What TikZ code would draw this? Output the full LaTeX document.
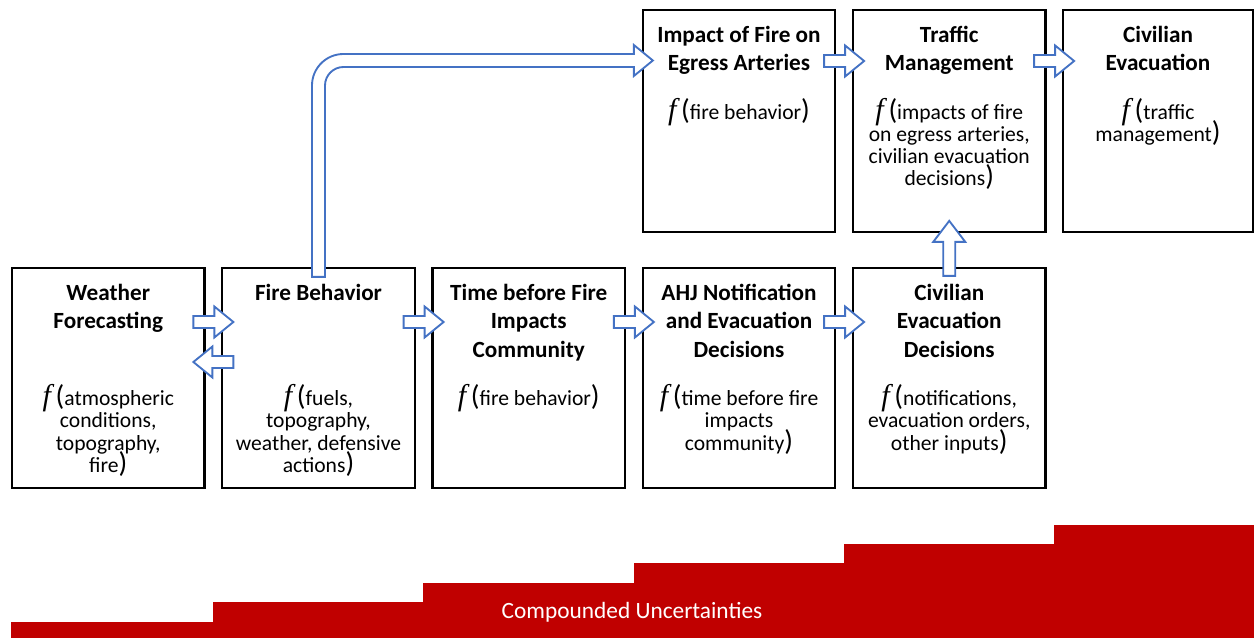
\documentclass[tikz,border=0pt]{standalone}
\usepackage{fontspec}
\setmainfont{Carlito}
\newfontfamily\fserif{Liberation Serif}
\usetikzlibrary{calc}
\definecolor{arrowblue}{HTML}{4472C4}
\definecolor{stairred}{HTML}{C00000}
% function sign "f (" and closing parenthesis
\newcommand\fn{{\fontsize{22.5}{17}\fserif\itshape f}\hspace{0.22em}{\fontsize{21.5}{17}\selectfont(}}
\newcommand\cp{{\fontsize{21.5}{17}\selectfont)}}
% struts fixing the height of the first line of titles and bodies
\newcommand\tst{\rule{0pt}{14pt}}
\newcommand\bst{\rule{0pt}{17pt}}
\begin{document}
\setlength{\lineskiplimit}{-100pt}
\begin{tikzpicture}[x=0.75pt,y=-0.75pt,
  box/.style={draw=black, line width=1.7pt, minimum width=144.375pt, minimum height=165pt, inner sep=0pt},
  ttl/.style={font=\fontsize{17.4}{21.5}\selectfont\bfseries, align=center, inner sep=0pt, anchor=north},
  bdy/.style={font=\fontsize{16.2}{16.6}\selectfont, align=center, inner sep=0pt, anchor=north},
  barrow/.style={draw=arrowblue, line width=1.4pt, fill=white, line join=miter},
  harr/.pic={\draw[barrow] (-20,-6) -- (1,-6) -- (1,-15.5) -- (20,0) -- (1,15.5) -- (1,6) -- (-20,6) -- cycle;},
  varr/.pic={\draw[barrow] (-27.5,-6) -- (6.5,-6) -- (6.5,-16) -- (27.5,0) -- (6.5,16) -- (6.5,6) -- (-27.5,6) -- cycle;}
]
\useasboundingbox (0,0) rectangle (1254,638);

% rising band of uncertainty
\fill[stairred] (11,638) -- (11,622) -- (213,622) -- (213,602) -- (423,602) -- (423,583)
  -- (634,583) -- (634,563) -- (844,563) -- (844,544) -- (1054,544) -- (1054,525)
  -- (1254,525) -- (1254,638) -- cycle;
\node[font=\fontsize{17.5}{20}\selectfont, text=white, inner sep=0pt] (cu) at (632,612) {Compounded Uncertainties};

% lower row of stages
\node[box] (wf)  at (108.25,378) {};
\node[box] (fb)  at (318.5,378) {};
\node[box] (tb)  at (528.75,378) {};
\node[box] (ahj) at (739,378) {};
\node[box] (ced) at (949.25,378) {};
% upper row of stages
\node[box, minimum height=166.5pt] (ia) at (739,121) {};
\node[box, minimum height=166.5pt] (tm) at (949.25,121) {};
\node[box, minimum height=166.5pt, minimum width=142.875pt] (ce) at (1158,121) {};

% titles and functions
\node[ttl] (wf-t) at ($(wf.north)+(0,14.5)$) {\tst Weather\\Forecasting};
\node[bdy] (wf-b) at ($(wf.north)+(0,116)$) {\bst\fn atmospheric\\conditions,\\topography,\\fire\cp};

\node[ttl] (fb-t) at ($(fb.north)+(0,14.5)$) {\tst Fire Behavior};
\node[bdy] (fb-b) at ($(fb.north)+(0,116)$) {\bst\fn fuels,\\topography,\\weather, defensive\\actions\cp};

\node[ttl] (tb-t) at ($(tb.north)+(0,14.5)$) {\tst Time before Fire\\Impacts\\Community};
\node[bdy] (tb-b) at ($(tb.north)+(0,116)$) {\bst\fn fire behavior\cp};

\node[ttl] (ahj-t) at ($(ahj.north)+(0,14.5)$) {\tst AHJ Notification\\and Evacuation\\Decisions};
\node[bdy] (ahj-b) at ($(ahj.north)+(0,116)$) {\bst\fn time before fire\\impacts\\community\cp};

\node[ttl] (ced-t) at ($(ced.north)+(0,14.5)$) {\tst Civilian\\Evacuation\\Decisions};
\node[bdy] (ced-b) at ($(ced.north)+(0,116)$) {\bst\fn notifications,\\evacuation orders,\\other inputs\cp};

\node[ttl] (ia-t) at ($(ia.north)+(0,14.5)$) {\tst Impact of Fire on\\Egress Arteries};
\node[bdy] (ia-b) at ($(ia.north)+(0,87.5)$) {\bst\fn fire behavior\cp};

\node[ttl] (tm-t) at ($(tm.north)+(0,14.5)$) {\tst Traffic\\Management};
\node[bdy] (tm-b) at ($(tm.north)+(0,87.5)$) {\bst\fn impacts of fire\\on egress arteries,\\civilian evacuation\\decisions\cp};

\node[ttl] (ce-t) at ($(ce.north)+(0,14.5)$) {\tst Civilian\\Evacuation};
\node[bdy] (ce-b) at ($(ce.north)+(0,87.5)$) {\bst\fn traffic\\management\cp};

% block arrows between stages
\pic at ($(wf.east)!.5!(fb.west)+(0,-56)$) {harr};
\pic[rotate=180] at ($(wf.east)!.5!(fb.west)+(0,-16)$) {harr};
\pic at ($(fb.east)!.5!(tb.west)+(0,-56)$) {harr};
\pic at ($(tb.east)!.5!(ahj.west)+(0,-56)$) {harr};
\pic at ($(ahj.east)!.5!(ced.west)+(0,-56)$) {harr};
\pic at ($(ia.east)!.5!(tm.west)+(0,-60)$) {harr};
\pic at ($(tm.east)!.5!(ce.west)+(0,-60)$) {harr};
\pic[rotate=90] at ($(ced.north)+(0,-18.5)$) {varr};

% bent arrow from fire behavior up to the egress arteries
\coordinate (la0) at ($(fb.north)+(0,10)$);
\coordinate (latip) at ($(ia.west)+(11.25,-60.5)$);
\draw[barrow]
  ($(la0)+(-6.5,0)$) [rounded corners=23.6pt]
  -- ($(la0|-latip)+(-6.5,-6.5)$)
  -- ($(la0|-latip)+(100,-6.5)$) [sharp corners]
  -- ($(latip)+(-19,-6.5)$)
  -- ($(latip)+(-19,-15.5)$)
  -- (latip)
  -- ($(latip)+(-19,15.5)$)
  -- ($(latip)+(-19,6.5)$)
  -- ($(la0|-latip)+(100,6.5)$) [rounded corners=13.9pt]
  -- ($(la0|-latip)+(6.5,6.5)$)
  -- ($(la0)+(6.5,-60)$) [sharp corners]
  -- ($(la0)+(6.5,0)$)
  -- cycle;
\end{tikzpicture}
\end{document}
